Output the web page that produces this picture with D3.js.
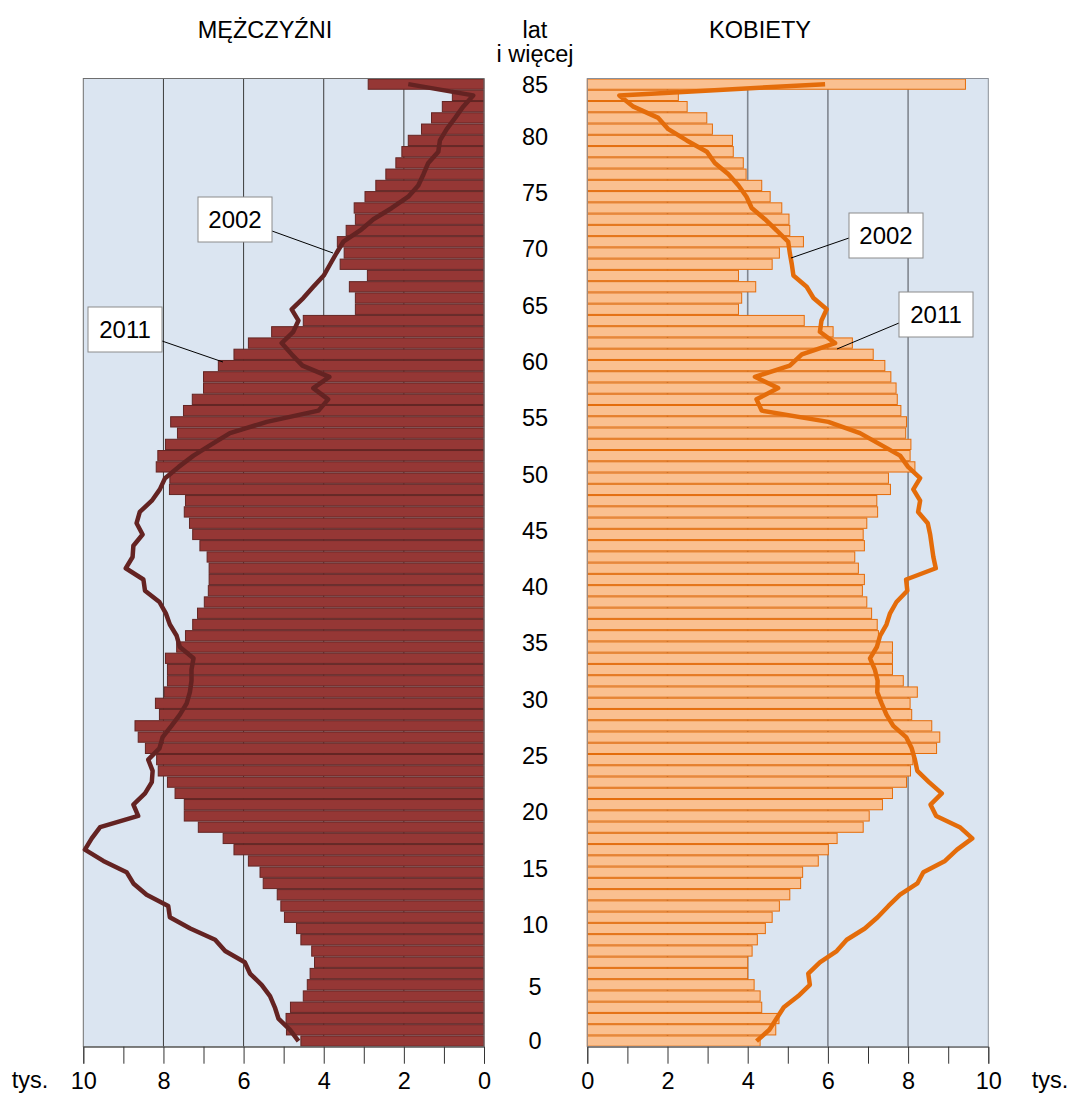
<!DOCTYPE html>
<html>
<head>
<meta charset="utf-8">
<script src="https://cdn.jsdelivr.net/npm/d3@7"></script>
<style>
  html, body { margin: 0; padding: 0; background: #ffffff; }
  svg { display: block; }
  text { font-family: "Liberation Sans", Arial, sans-serif; fill: #000; }
</style>
</head>
<body>
<svg id="chart" width="1070" height="1095"></svg>
<script>
// ---- DATA (thousands of persons), index = age 0..85 (85 = "85 lat i więcej")
const ages = [0,1,2,3,4,5,6,7,8,9,10,11,12,13,14,15,16,17,18,19,20,21,22,23,24,25,26,27,28,29,30,31,32,33,34,35,36,37,38,39,40,41,42,43,44,45,46,47,48,49,50,51,52,53,54,55,56,57,58,59,60,61,62,63,64,65,66,67,68,69,70,71,72,73,74,75,76,77,78,79,80,81,82,83,84,85];
const ageLabels = [0,5,10,15,20,25,30,35,40,45,50,55,60,65,70,75,80,85];

const male2011 = [4.57,4.93,4.94,4.83,4.51,4.41,4.34,4.23,4.30,4.57,
                  4.68,4.98,5.07,5.16,5.51,5.59,5.88,6.24,6.51,7.13,
                  7.48,7.48,7.71,7.90,8.13,8.17,8.45,8.63,8.71,8.10,
                  8.20,7.98,7.90,7.90,7.95,7.67,7.45,7.27,7.15,6.98,
                  6.88,6.86,6.86,6.91,7.09,7.27,7.35,7.48,7.45,7.85,
                  7.84,8.18,8.14,7.95,7.65,7.82,7.50,7.28,7.00,7.00,
                  6.63,6.24,5.88,5.30,4.51,3.21,3.21,3.36,2.91,3.59,
                  3.49,3.66,3.44,3.21,3.24,2.97,2.70,2.45,2.20,2.05,
                  1.89,1.56,1.31,1.04,0.79,2.89];
const male2002 = [4.63,4.84,5.13,5.22,5.34,5.55,5.84,5.97,6.46,6.71,
                  7.33,7.84,7.88,8.42,8.75,8.92,9.50,9.96,9.79,9.58,
                  8.63,8.75,8.46,8.29,8.27,8.38,8.10,8.02,7.80,7.59,
                  7.42,7.34,7.30,7.30,7.25,7.59,7.67,7.84,7.94,8.10,
                  8.46,8.50,8.94,8.77,8.75,8.52,8.67,8.59,8.29,8.09,
                  7.96,7.62,7.25,6.80,6.34,5.42,4.13,3.89,4.26,3.86,
                  4.53,4.80,5.05,4.76,4.63,4.80,4.51,4.26,4.00,3.84,
                  3.68,3.51,3.09,2.76,2.30,1.89,1.64,1.51,1.39,1.14,
                  1.10,0.93,0.72,0.52,0.27,1.89];
const female2011 = [4.31,4.70,4.78,4.35,4.31,4.16,4.00,4.00,4.11,4.24,
                    4.44,4.61,4.79,5.05,5.32,5.37,5.76,6.01,6.23,6.88,
                    7.03,7.36,7.61,7.96,8.06,8.12,8.71,8.79,8.59,8.09,
                    8.05,8.23,7.88,7.61,7.61,7.61,7.26,7.23,7.09,6.97,
                    6.86,6.91,6.76,6.67,6.91,6.88,6.97,7.24,7.22,7.56,
                    7.51,8.17,8.05,8.07,7.94,7.96,7.82,7.73,7.70,7.57,
                    7.42,7.13,6.61,6.13,5.41,3.77,3.85,4.20,3.77,4.61,
                    4.79,5.39,5.05,5.03,4.85,4.56,4.35,3.96,3.89,3.64,
                    3.62,3.12,2.98,2.49,2.27,9.43];
const female2002 = [4.22,4.54,4.72,4.90,5.26,5.55,5.51,5.80,6.22,6.47,
                    6.92,7.24,7.51,7.80,8.23,8.38,8.92,9.22,9.60,9.29,
                    8.70,8.56,8.84,8.52,8.23,8.17,8.09,7.95,7.63,7.46,
                    7.34,7.23,7.24,7.17,7.05,7.22,7.30,7.46,7.55,7.71,
                    7.98,7.95,8.69,8.63,8.59,8.55,8.49,8.25,8.30,8.13,
                    8.30,8.00,7.80,7.30,6.80,6.01,4.35,4.22,4.76,4.18,
                    5.05,5.35,6.18,5.80,5.84,5.97,5.64,5.47,5.14,5.10,
                    5.05,5.01,4.72,4.43,4.10,3.97,3.77,3.52,3.18,2.98,
                    2.48,2.02,1.77,1.15,0.80,5.93];
const xTicks = [0,1,2,3,4,5,6,7,8,9,10];
const gridValues = [2,4,6,8];

(function () {
// ---- LAYOUT
const svg = d3.select("#chart");
const plotTop = 78.5, plotBottom = 1046.7;
const L = {x0: 83.3, x1: 484};
const R = {x0: 587.3, x1: 988.3};
const centerX = 535;

const y = d3.scaleBand().domain(ages.slice().reverse()).range([plotTop, plotBottom]).padding(0);
const bw = y.bandwidth();
const xL = d3.scaleLinear().domain([0, 10]).range([L.x1, L.x0]);
const xR = d3.scaleLinear().domain([0, 10]).range([R.x0, R.x1]);

const bg = "#dbe5f1";

// panels background
svg.append("rect").attr("x", L.x0).attr("y", plotTop).attr("width", L.x1 - L.x0).attr("height", plotBottom - plotTop).attr("fill", bg);
svg.append("rect").attr("x", R.x0).attr("y", plotTop).attr("width", R.x1 - R.x0).attr("height", plotBottom - plotTop).attr("fill", bg);

// gridlines
svg.append("g").selectAll("line").data(gridValues).join("line")
  .attr("x1", d => xL(d)).attr("x2", d => xL(d)).attr("y1", plotTop).attr("y2", plotBottom)
  .attr("stroke", "#3c3c3c").attr("stroke-width", 1);
svg.append("g").selectAll("line").data(gridValues).join("line")
  .attr("x1", d => xR(d)).attr("x2", d => xR(d)).attr("y1", plotTop).attr("y2", plotBottom)
  .attr("stroke", "#80868f").attr("stroke-width", 1.6);

// bars
svg.append("g").selectAll("rect").data(ages).join("rect")
  .attr("x", (d, i) => xL(male2011[i]))
  .attr("y", d => y(d) + 0.5)
  .attr("width", (d, i) => L.x1 - xL(male2011[i]))
  .attr("height", bw - 1)
  .attr("fill", "#953735").attr("stroke", "#632523").attr("stroke-width", 1);
svg.append("g").selectAll("rect").data(ages).join("rect")
  .attr("x", R.x0)
  .attr("y", d => y(d) + 0.5)
  .attr("width", (d, i) => xR(female2011[i]) - R.x0)
  .attr("height", bw - 1)
  .attr("fill", "#fac090").attr("stroke", "#e46c0a").attr("stroke-width", 1);

// panel borders
svg.append("rect").attr("x", L.x0).attr("y", plotTop).attr("width", L.x1 - L.x0).attr("height", plotBottom - plotTop)
  .attr("fill", "none").attr("stroke", "#6e6e6e").attr("stroke-width", 1);
svg.append("rect").attr("x", R.x0).attr("y", plotTop).attr("width", R.x1 - R.x0).attr("height", plotBottom - plotTop)
  .attr("fill", "none").attr("stroke", "#8a8f98").attr("stroke-width", 1);

// 2002 lines
const lineL = d3.line().x((d, i) => xL(male2002[i])).y(d => y(d) + bw / 2);
const lineR = d3.line().x((d, i) => xR(female2002[i])).y(d => y(d) + bw / 2);
svg.append("path").datum(ages).attr("d", lineL)
  .attr("fill", "none").attr("stroke", "#642322").attr("stroke-width", 4.5)
  .attr("stroke-linejoin", "round").attr("stroke-linecap", "butt");
svg.append("path").datum(ages).attr("d", lineR)
  .attr("fill", "none").attr("stroke", "#e46c0a").attr("stroke-width", 4.5)
  .attr("stroke-linejoin", "round").attr("stroke-linecap", "butt");

// bottom axes
const fs = 23.5;
function drawAxis(scale) {
  const g = svg.append("g").attr("transform", `translate(0,${plotBottom})`)
    .call(d3.axisBottom(scale).tickValues(xTicks).tickSize(17).tickPadding(9)
      .tickFormat(d => d % 2 === 0 ? d : ""));
  g.select(".domain").attr("stroke", "#555");
  g.selectAll(".tick line").attr("stroke", "#333");
  g.selectAll(".tick text").attr("font-size", fs).attr("font-family", "Liberation Sans, Arial, sans-serif").attr("fill", "#000");
}
drawAxis(xL);
drawAxis(xR);
svg.append("text").attr("x", 30).attr("y", 1088).attr("text-anchor", "middle").attr("font-size", fs).text("tys.");
svg.append("text").attr("x", 1050).attr("y", 1088).attr("text-anchor", "middle").attr("font-size", fs).text("tys.");

// age labels (small vertical nudges as in the original layout)
const nudge = a => (a === 0 ? -1 : a === 5 ? 2 : a === 85 ? 0 : -4);
svg.append("g").selectAll("text").data(ageLabels).join("text")
  .attr("x", centerX).attr("y", d => y(d) + bw / 2 + nudge(d))
  .attr("dy", "0.36em").attr("text-anchor", "middle").attr("font-size", fs)
  .text(d => d);

// headers
svg.append("text").attr("x", 265).attr("y", 38).attr("text-anchor", "middle").attr("font-size", fs).text("MĘŻCZYŹNI");
svg.append("text").attr("x", 760).attr("y", 38).attr("text-anchor", "middle").attr("font-size", fs).text("KOBIETY");
svg.append("text").attr("x", centerX).attr("y", 38).attr("text-anchor", "middle").attr("font-size", fs).text("lat");
svg.append("text").attr("x", centerX).attr("y", 62).attr("text-anchor", "middle").attr("font-size", fs).text("i więcej");

// callouts
const callouts = [
  {text: "2002", bx: 198, by: 197, lx1: 272, ly1: 231, lx2: 333, ly2: 253},
  {text: "2011", bx: 88,  by: 307, lx1: 162, ly1: 341, lx2: 223, ly2: 362},
  {text: "2002", bx: 849, by: 213, lx1: 849, ly1: 238, lx2: 791, ly2: 258},
  {text: "2011", bx: 899, by: 292, lx1: 899, ly1: 323, lx2: 837, ly2: 349}
];
const cg = svg.append("g");
callouts.forEach(c => {
  cg.append("line").attr("x1", c.lx1).attr("y1", c.ly1).attr("x2", c.lx2).attr("y2", c.ly2)
    .attr("stroke", "#000").attr("stroke-width", 1);
  cg.append("rect").attr("x", c.bx).attr("y", c.by).attr("width", 74).attr("height", 45)
    .attr("fill", "#fff").attr("stroke", "#8c8c8c").attr("stroke-width", 1);
  cg.append("text").attr("x", c.bx + 37).attr("y", c.by + 22.5).attr("dy", "0.36em")
    .attr("text-anchor", "middle").attr("font-size", 24).text(c.text);
});
})();
</script>
</body>
</html>
